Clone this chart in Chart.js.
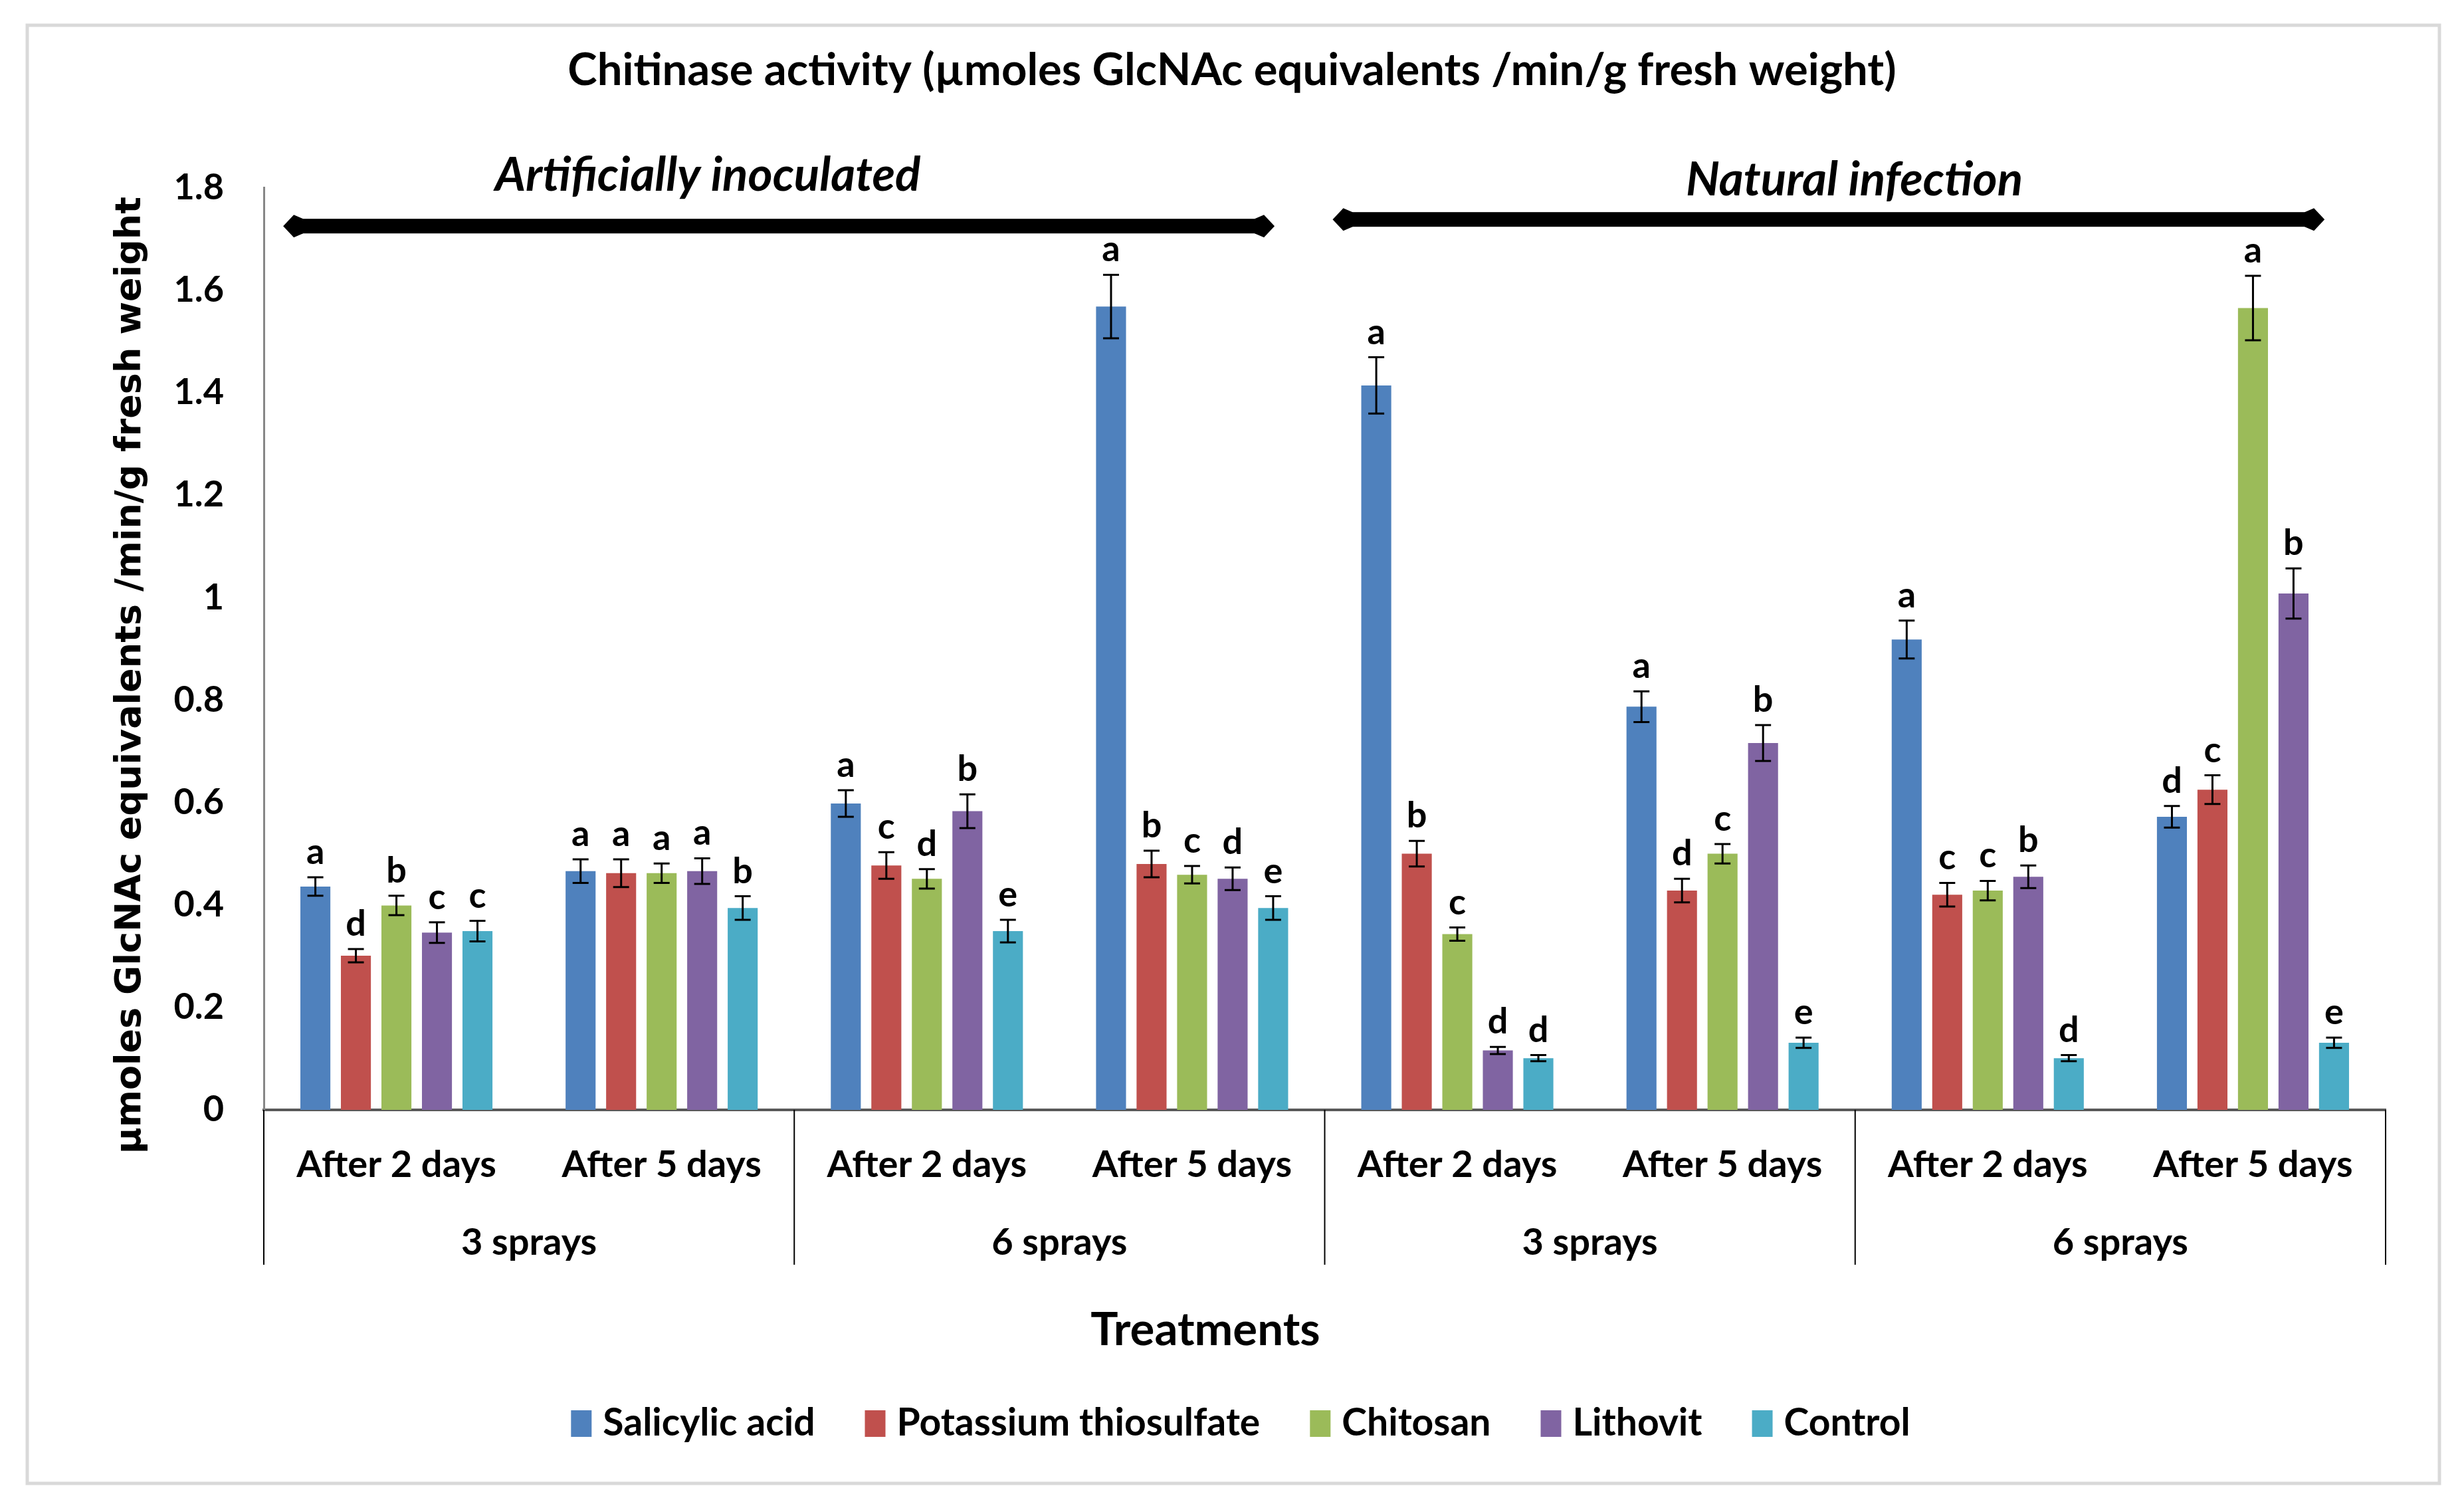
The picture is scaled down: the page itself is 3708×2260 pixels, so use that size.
<!DOCTYPE html>
<html>
<head>
<meta charset="utf-8">
<script src="https://cdn.jsdelivr.net/npm/chart.js@4.4.1/dist/chart.umd.min.js"></script>
<style>
  html, body { margin: 0; padding: 0; background: #fff; }
  canvas { display: block; }
</style>
</head>
<body>
<canvas id="chart" width="3708" height="2260" style="width:3708px;height:2260px"></canvas>
<script>
// categories and groupings
const categories = ['After 2 days', 'After 5 days', 'After 2 days', 'After 5 days',
                    'After 2 days', 'After 5 days', 'After 2 days', 'After 5 days'];
const sprayGroups = ['3 sprays', '6 sprays', '3 sprays', '6 sprays'];
const regions = ['Artificially inoculated', 'Natural infection'];
const yTicks = [0, 0.2, 0.4, 0.6, 0.8, 1, 1.2, 1.4, 1.6, 1.8];
const yTitle = 'µmoles GlcNAc equivalents /min/g fresh weight';
const xTitle = 'Treatments';

const seriesNames = ['Salicylic acid', 'Potassium thiosulfate', 'Chitosan', 'Lithovit', 'Control'];
const seriesColors = ['#4F81BD', '#C0504D', '#9BBB59', '#8064A2', '#4BACC6'];

// means
const salicylic = [0.436, 0.466, 0.598, 1.568, 1.414, 0.787, 0.918, 0.572];
const potassium = [0.301, 0.462, 0.477, 0.480, 0.500, 0.428, 0.420, 0.625];
const chitosan  = [0.399, 0.462, 0.451, 0.459, 0.343, 0.500, 0.428, 1.565];
const lithovit  = [0.346, 0.466, 0.583, 0.451, 0.116, 0.716, 0.455, 1.008];
const control   = [0.349, 0.394, 0.349, 0.394, 0.101, 0.131, 0.101, 0.131];

// error bars (+/-)
const salicylicErr = [0.018, 0.023, 0.026, 0.062, 0.055, 0.030, 0.037, 0.021];
const potassiumErr = [0.013, 0.027, 0.026, 0.026, 0.025, 0.023, 0.023, 0.028];
const chitosanErr  = [0.019, 0.019, 0.019, 0.017, 0.013, 0.019, 0.019, 0.063];
const lithovitErr  = [0.020, 0.025, 0.033, 0.022, 0.007, 0.035, 0.022, 0.049];
const controlErr   = [0.020, 0.023, 0.022, 0.023, 0.006, 0.010, 0.006, 0.010];

// significance letters
const salicylicLetters = ['a', 'a', 'a', 'a', 'a', 'a', 'a', 'd'];
const potassiumLetters = ['d', 'a', 'c', 'b', 'b', 'd', 'c', 'c'];
const chitosanLetters  = ['b', 'a', 'd', 'c', 'c', 'c', 'c', 'a'];
const lithovitLetters  = ['c', 'a', 'b', 'd', 'd', 'b', 'b', 'b'];
const controlLetters   = ['c', 'b', 'e', 'e', 'd', 'e', 'd', 'e'];

const seriesValues = [salicylic, potassium, chitosan, lithovit, control];
const seriesErrors = [salicylicErr, potassiumErr, chitosanErr, lithovitErr, controlErr];
const seriesLetters = [salicylicLetters, potassiumLetters, chitosanLetters, lithovitLetters, controlLetters];

const FONT = 'Lato, "Open Sans", sans-serif';

const decorations = {
    id: 'decorations',
    beforeDraw(chart) {
        const ctx = chart.ctx;
        ctx.save();
        ctx.fillStyle = '#fff';
        ctx.fillRect(0, 0, chart.width, chart.height);
        ctx.strokeStyle = '#d9d9d9';
        ctx.lineWidth = 5;
        ctx.strokeRect(41, 38, 3630, 2194);
        ctx.restore();
    },
    afterDatasetsDraw(chart) {
        const ctx = chart.ctx;
        const y = chart.scales.y;
        ctx.save();
        chart.data.datasets.forEach((ds, di) => {
            const meta = chart.getDatasetMeta(di);
            meta.data.forEach((bar, i) => {
                const v = ds.data[i], e = seriesErrors[di][i];
                const top = y.getPixelForValue(v + e);
                const bot = y.getPixelForValue(v - e);
                ctx.strokeStyle = '#000';
                ctx.lineWidth = 3;
                ctx.beginPath();
                ctx.moveTo(bar.x, top); ctx.lineTo(bar.x, bot);
                ctx.moveTo(bar.x - 12, top); ctx.lineTo(bar.x + 12, top);
                ctx.moveTo(bar.x - 12, bot); ctx.lineTo(bar.x + 12, bot);
                ctx.stroke();
                ctx.fillStyle = '#000';
                ctx.font = 'bold 54px ' + FONT;
                ctx.textAlign = 'center';
                ctx.textBaseline = 'alphabetic';
                ctx.fillText(seriesLetters[di][i], bar.x, top - 20);
            });
        });
        ctx.restore();
    },
    afterDraw(chart) {
        const ctx = chart.ctx;
        const x = chart.scales.x, y = chart.scales.y;
        const cat = x.width / categories.length;
        const xAt = u => x.left + u * cat;
        const bottom = chart.chartArea.bottom;
        ctx.save();

        // y axis title
        ctx.save();
        ctx.translate(197, 1016);
        ctx.rotate(-Math.PI / 2);
        ctx.fillStyle = '#000';
        ctx.font = 'bold 54px "DejaVu Sans", Verdana, sans-serif';
        ctx.textAlign = 'center';
        ctx.textBaseline = 'middle';
        ctx.fillText(yTitle, 0, 0);
        ctx.restore();

        // group dividers and spray labels
        ctx.strokeStyle = '#000';
        ctx.lineWidth = 2;
        ctx.beginPath();
        for (let g = 0; g <= sprayGroups.length; g++) {
            ctx.moveTo(xAt(g * 2), bottom);
            ctx.lineTo(xAt(g * 2), bottom + 233);
        }
        ctx.stroke();
        ctx.fillStyle = '#000';
        ctx.font = 'bold 56px ' + FONT;
        ctx.textAlign = 'center';
        ctx.textBaseline = 'middle';
        sprayGroups.forEach((s, g) => ctx.fillText(s, xAt(g * 2 + 1), bottom + 200));

        // x axis title
        ctx.font = 'bold 69px ' + FONT;
        ctx.fillText(xTitle, 1814, bottom + 332);

        // double-headed arrows over the two infection types
        const arrow = (u1, u2, v) => {
            const x1 = xAt(u1), x2 = xAt(u2), yy = y.getPixelForValue(v);
            ctx.fillStyle = '#000';
            ctx.fillRect(x1 + 18, yy - 11, x2 - x1 - 36, 22);
            ctx.beginPath();
            ctx.moveTo(x1, yy); ctx.lineTo(x1 + 16, yy - 17); ctx.lineTo(x1 + 30, yy - 11);
            ctx.lineTo(x1 + 30, yy + 11); ctx.lineTo(x1 + 16, yy + 17); ctx.closePath();
            ctx.moveTo(x2, yy); ctx.lineTo(x2 - 16, yy - 17); ctx.lineTo(x2 - 30, yy - 11);
            ctx.lineTo(x2 - 30, yy + 11); ctx.lineTo(x2 - 16, yy + 17); ctx.closePath();
            ctx.fill();
        };
        arrow(0.073, 3.811, 1.725);
        arrow(4.03, 7.77, 1.738);

        ctx.font = 'italic bold 71px ' + FONT;
        ctx.textBaseline = 'middle';
        ctx.fillText(regions[0], xAt(1.674), y.getPixelForValue(1.824));
        ctx.fillText(regions[1], xAt(5.997), y.getPixelForValue(1.815));

        // legend
        ctx.font = 'bold 57px ' + FONT;
        ctx.textAlign = 'left';
        const items = chart.data.datasets.map(ds => ({ text: ds.label, color: ds.backgroundColor, w: ctx.measureText(ds.label).width }));
        const boxW = 31, boxH = 40, gap = 17, spacing = 75;
        const total = items.reduce((s, it) => s + boxW + gap + it.w, 0) + spacing * (items.length - 1);
        let lx = 1867 - total / 2;
        const ly = bottom + 472;
        items.forEach(it => {
            ctx.fillStyle = it.color;
            ctx.fillRect(lx, ly - boxH / 2, boxW, boxH);
            ctx.fillStyle = '#000';
            ctx.fillText(it.text, lx + boxW + gap, ly);
            lx += boxW + gap + it.w + spacing;
        });
        ctx.restore();
    }
};

new Chart(document.getElementById('chart'), {
    type: 'bar',
    data: {
        labels: categories,
        datasets: seriesNames.map((name, i) => ({
            label: name,
            data: seriesValues[i],
            backgroundColor: seriesColors[i],
            borderWidth: 0,
            categoryPercentage: 0.764,
            barPercentage: 0.74
        }))
    },
    options: {
        responsive: false,
        devicePixelRatio: 1,
        animation: false,
        layout: { padding: { left: 118, right: 118, top: 0, bottom: 190 } },
        scales: {
            x: {
                grid: { display: false },
                border: { display: true, color: '#595959', width: 4 },
                ticks: {
                    color: '#000',
                    font: { family: FONT, size: 56, weight: 'bold' },
                    padding: 41,
                    maxRotation: 0,
                    autoSkip: false
                },
                afterFit(scale) { scale.height = 400; }
            },
            y: {
                min: 0,
                max: 1.8,
                afterBuildTicks(scale) { scale.ticks = yTicks.map(v => ({ value: v })); },
                grid: { display: false, drawTicks: false },
                border: { display: true, color: '#868686', width: 3 },
                ticks: {
                    color: '#000',
                    font: { family: FONT, size: 54, weight: 'bold' },
                    padding: 60,
                    callback: v => String(v)
                },
                afterFit(scale) { scale.width = 279; }
            }
        },
        plugins: {
            title: {
                display: true,
                text: 'Chitinase activity (µmoles GlcNAc equivalents /min/g fresh weight)',
                color: '#000',
                font: { family: FONT, size: 67, weight: 'bold' },
                padding: { top: 66, bottom: 136 }
            },
            legend: { display: false },
            tooltip: { enabled: false }
        }
    },
    plugins: [decorations]
});
</script>
</body>
</html>
